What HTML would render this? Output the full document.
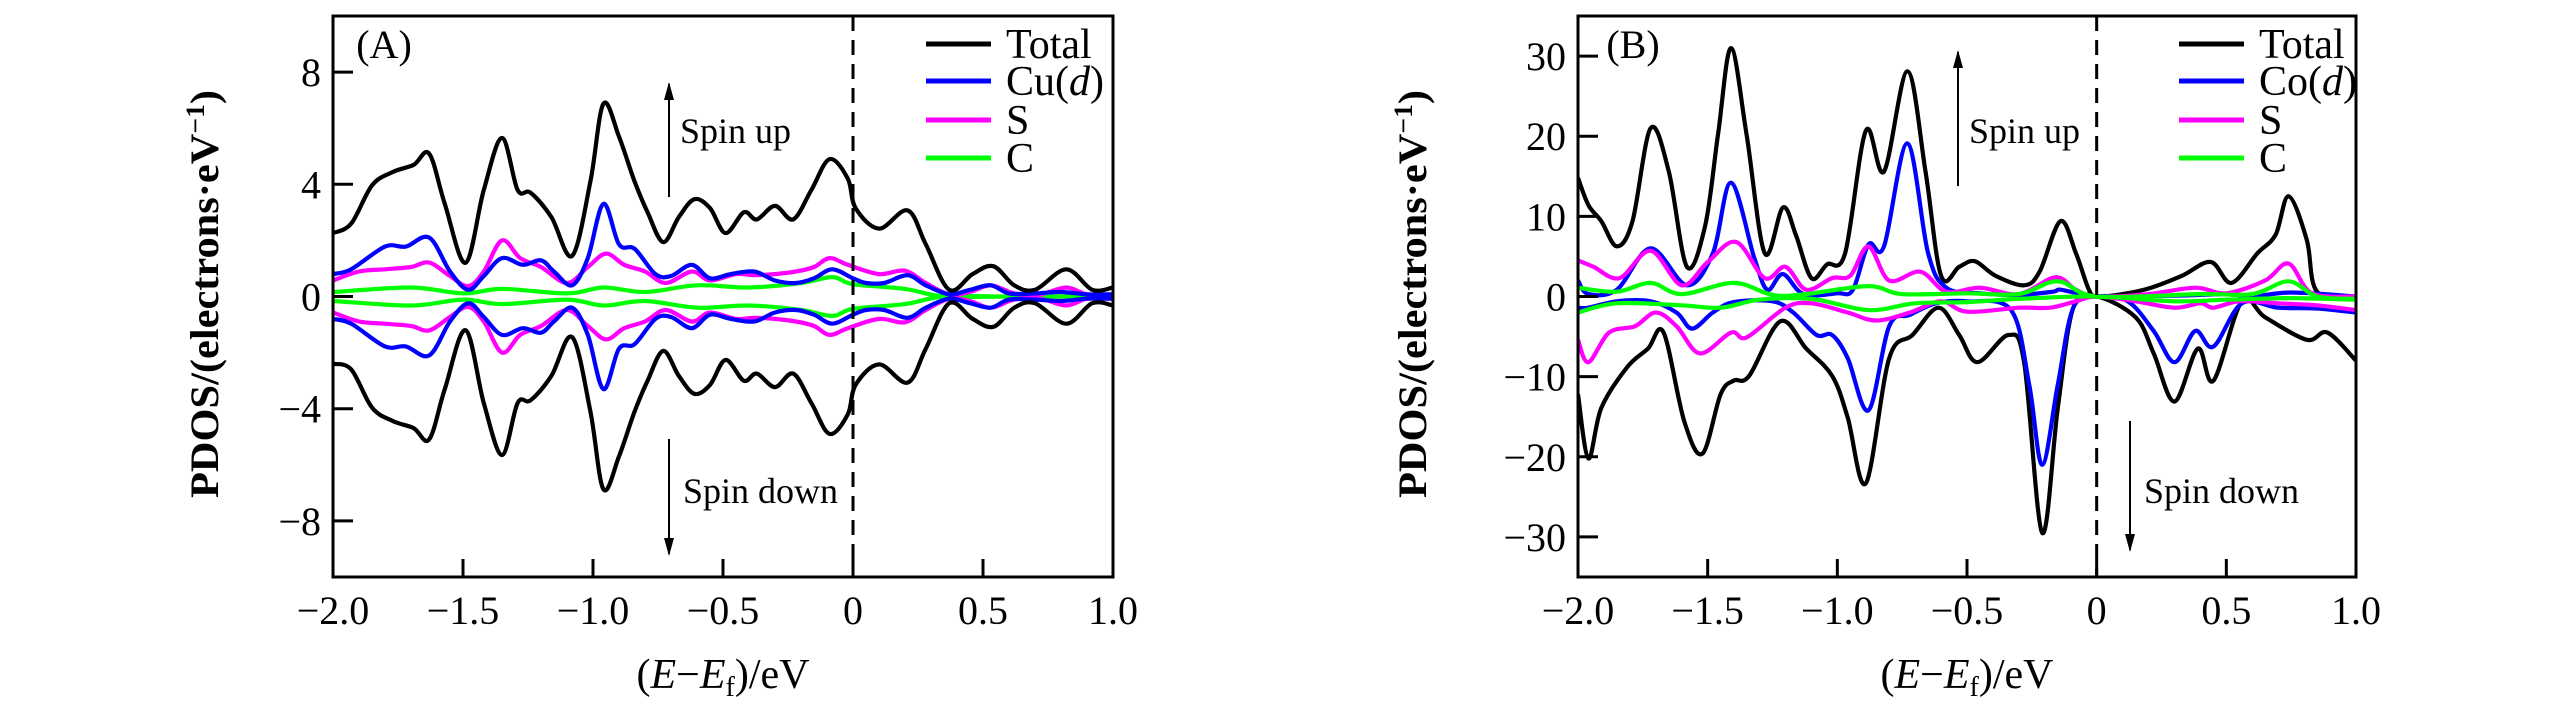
<!DOCTYPE html>
<html><head><meta charset="utf-8"><style>
html,body{margin:0;padding:0;background:#fff;}
svg{display:block;}
svg text{font-family:"Liberation Serif","DejaVu Serif",serif;}
</style></head><body>
<svg id="fig" width="2567" height="709" viewBox="0 0 2567 709" xmlns="http://www.w3.org/2000/svg" font-family="Liberation Serif, serif"></svg>
<script>
// ---- Panel A data ----
const aTotalX = [-2,-1.93,-1.85,-1.77,-1.69,-1.63,-1.57,-1.49,-1.42,-1.35,-1.29,-1.24,-1.16,-1.08,-1.01,-0.96,-0.90,-0.84,-0.79,-0.73,-0.67,-0.61,-0.55,-0.49,-0.42,-0.37,-0.30,-0.23,-0.16,-0.09,-0.02,0.01,0.10,0.21,0.28,0.37,0.46,0.54,0.62,0.70,0.82,0.92,1.0];
const aTotalUp = [2.26,2.6,3.96,4.44,4.69,5.09,3.3,1.2,3.8,5.65,3.8,3.7,2.83,1.45,4.1,6.87,5.7,4.1,3.0,1.94,2.83,3.47,3.15,2.26,3.0,2.75,3.23,2.75,3.8,4.9,4.2,3.15,2.42,3.07,1.86,0.24,0.8,1.08,0.4,0.24,0.97,0.24,0.32];
const aTotalDown = [-2.4,-2.6,-3.96,-4.44,-4.69,-5.09,-3.3,-1.2,-3.8,-5.65,-3.8,-3.7,-2.83,-1.45,-4.1,-6.87,-5.7,-4.1,-3.0,-1.94,-2.83,-3.47,-3.15,-2.26,-3.0,-2.75,-3.23,-2.75,-3.8,-4.9,-4.2,-3.15,-2.42,-3.07,-1.86,-0.24,-0.8,-1.08,-0.4,-0.24,-0.97,-0.24,-0.32];
const aCuX = [-2,-1.93,-1.8,-1.72,-1.63,-1.55,-1.48,-1.42,-1.35,-1.27,-1.2,-1.15,-1.08,-1.02,-0.96,-0.90,-0.84,-0.76,-0.70,-0.62,-0.55,-0.47,-0.38,-0.30,-0.22,-0.15,-0.08,0.0,0.05,0.12,0.21,0.28,0.37,0.45,0.53,0.6,0.7,0.8,0.9,1.0];
const aCuUp = [0.8,0.97,1.78,1.78,2.1,0.89,0.24,0.73,1.37,1.13,1.29,0.89,0.4,1.37,3.3,1.86,1.7,0.8,0.73,1.13,0.65,0.8,0.89,0.57,0.48,0.65,0.97,0.65,0.48,0.48,0.76,0.4,0.08,0.24,0.4,0.11,0.11,0.16,0.08,0.08];
const aCuDown = [-0.8,-0.97,-1.78,-1.78,-2.1,-0.89,-0.24,-0.73,-1.37,-1.13,-1.29,-0.89,-0.4,-1.37,-3.3,-1.86,-1.7,-0.8,-0.73,-1.13,-0.65,-0.8,-0.89,-0.57,-0.48,-0.65,-0.97,-0.65,-0.48,-0.48,-0.76,-0.4,-0.08,-0.24,-0.4,-0.11,-0.11,-0.16,-0.08,-0.08];
const aSX = [-2,-1.9,-1.8,-1.7,-1.63,-1.55,-1.48,-1.42,-1.35,-1.28,-1.2,-1.1,-1.02,-0.95,-0.88,-0.80,-0.72,-0.62,-0.55,-0.45,-0.38,-0.30,-0.22,-0.15,-0.09,-0.02,0.1,0.2,0.28,0.37,0.45,0.53,0.62,0.72,0.82,0.9,1.0];
const aSUp = [0.57,0.89,0.97,1.05,1.21,0.73,0.37,0.89,2.0,1.37,1.05,0.48,1.05,1.53,1.13,0.89,0.48,0.89,0.57,0.8,0.76,0.8,0.89,1.05,1.37,1.13,0.8,0.92,0.48,0.08,0.16,0.4,0.11,0.08,0.32,0.08,0.08];
const aSDown = [-0.57,-0.89,-0.97,-1.05,-1.21,-0.73,-0.37,-0.89,-2.0,-1.37,-1.05,-0.48,-1.05,-1.53,-1.13,-0.89,-0.48,-0.89,-0.57,-0.8,-0.76,-0.8,-0.89,-1.05,-1.37,-1.13,-0.8,-0.92,-0.48,-0.08,-0.16,-0.4,-0.11,-0.08,-0.32,-0.08,-0.08];
const aCX = [-2,-1.7,-1.5,-1.35,-1.1,-0.96,-0.8,-0.6,-0.4,-0.2,-0.08,0.0,0.2,0.35,0.6,1.0];
const aCUp = [0.16,0.32,0.11,0.27,0.11,0.32,0.16,0.4,0.32,0.48,0.69,0.44,0.27,0.0,0.0,0.0];
const aCDown = [-0.16,-0.32,-0.11,-0.27,-0.11,-0.32,-0.16,-0.4,-0.32,-0.48,-0.69,-0.44,-0.27,0.0,0.0,0.0];

// ---- Panel B data ----
const bTotUpX = [-2,-1.96,-1.91,-1.85,-1.79,-1.72,-1.65,-1.58,-1.51,-1.46,-1.41,-1.35,-1.28,-1.21,-1.16,-1.10,-1.04,-0.97,-0.89,-0.82,-0.73,-0.66,-0.60,-0.53,-0.47,-0.39,-0.28,-0.22,-0.14,-0.08,-0.03,0,0.10,0.21,0.33,0.44,0.52,0.62,0.69,0.74,0.81,0.85,1.0];
const bTotUp = [14.8,11.4,9.4,6.25,9.4,21,15.6,3.7,8.8,20.2,31,20.2,5.4,11.1,7.7,2.3,4.0,5.4,20.7,15.6,28.1,15.6,2.6,3.7,4.4,2.6,1.4,3.1,9.4,5.4,0.85,0,0.3,1.1,2.6,4.3,1.7,5.4,7.7,12.5,7.1,0.6,-0.3];
const bTotDnX = [-2,-1.96,-1.91,-1.81,-1.73,-1.67,-1.59,-1.52,-1.45,-1.40,-1.34,-1.22,-1.12,-1.02,-0.96,-0.89,-0.80,-0.71,-0.61,-0.53,-0.46,-0.34,-0.28,-0.21,-0.15,-0.09,0,0.15,0.22,0.30,0.39,0.45,0.56,0.65,0.81,0.89,1.0];
const bTotDown = [-12.2,-20.2,-13.9,-8.8,-6.5,-4.5,-15.6,-19.6,-12.2,-10.5,-9.9,-3.1,-6.5,-9.9,-15.1,-23.3,-7.7,-4.8,-1.4,-4.8,-8.2,-4.8,-8.2,-29.5,-13.9,-1.4,0,-2.6,-7.1,-13.1,-6.5,-10.5,-0.6,-2.6,-5.4,-4.5,-8.0];
const bCoUpX = [-2,-1.96,-1.85,-1.72,-1.58,-1.48,-1.41,-1.32,-1.27,-1.21,-1.13,-1.0,-0.94,-0.88,-0.82,-0.73,-0.65,-0.58,-0.45,-0.3,-0.17,-0.14,-0.05,0,0.3,0.5,0.6,0.75,1.0];
const bCoUp = [2.0,0.3,0.85,6.0,1.4,5.4,14.2,4.8,0.85,2.8,0.3,0.4,0.85,6.5,6.25,19.1,5.4,1.1,0.4,0.2,0.6,0.85,0.2,0,0.1,0.3,0,0.5,0];
const bCoDnX = [-2,-1.96,-1.85,-1.72,-1.62,-1.56,-1.48,-1.40,-1.25,-1.17,-1.08,-1.02,-0.96,-0.88,-0.80,-0.72,-0.62,-0.5,-0.33,-0.26,-0.21,-0.15,-0.09,0,0.12,0.22,0.30,0.38,0.45,0.56,0.7,0.85,1.0];
const bCoDown = [-1.4,-1.4,-0.6,-0.6,-2,-4.0,-2,-0.7,-0.6,-2,-4.8,-4.8,-7.7,-14.2,-3.7,-2.3,-0.85,-0.6,-1.7,-11,-21,-11,-1.4,0,-0.6,-4.3,-8.2,-4.3,-6.25,-0.85,-1.4,-1.5,-2.0];
const bSUpX = [-2,-1.94,-1.84,-1.72,-1.60,-1.50,-1.39,-1.28,-1.2,-1.12,-1.02,-0.95,-0.88,-0.80,-0.68,-0.58,-0.45,-0.30,-0.16,-0.08,0,0.2,0.38,0.5,0.65,0.74,0.83,1.0];
const bSUp = [4.5,3.7,2.3,5.7,1.4,4.3,6.8,2.3,3.7,0.85,2.3,2.6,6.25,2.0,3.1,0.6,1.1,0.3,2.4,0.85,0,0.3,1.1,0.4,2.0,4.1,0.4,0];
const bSDnX = [-2,-1.96,-1.88,-1.78,-1.70,-1.62,-1.53,-1.41,-1.35,-1.2,-1.1,-0.96,-0.85,-0.72,-0.6,-0.5,-0.3,-0.18,-0.08,0,0.15,0.3,0.4,0.45,0.55,0.7,0.85,1.0];
const bSDown = [-5.4,-8.2,-4.5,-3.7,-2,-3.7,-7.1,-4.5,-5.1,-1.4,-0.85,-2,-3,-2,-0.6,-1.9,-1.4,-1.4,-0.6,0,-0.6,-1.4,-0.85,-1.4,-0.6,-0.85,-1.1,-1.7];
const bCUpX = [-2,-1.85,-1.72,-1.6,-1.4,-1.25,-1.12,-0.88,-0.75,-0.5,-0.3,-0.15,0,0.4,0.6,0.74,0.85,1.0];
const bCUp = [1.1,0.6,1.7,0.3,1.7,0.2,0.3,1.3,0.3,0.4,0.3,1.9,0,0.3,0.3,1.9,0,-0.3];
const bCDnX = [-2,-1.85,-1.6,-1.45,-1.3,-1.1,-0.88,-0.7,-0.5,-0.3,0,0.3,0.5,0.75,1.0];
const bCDown = [-2.0,-0.85,-1.1,-1.4,-0.4,-0.3,-1.7,-0.85,-0.7,-0.3,0,-0.6,-0.4,-0.2,-0.4];

const xTicks = [-2.0,-1.5,-1.0,-0.5,0,0.5,1.0];
const xTickLabels = ["\u22122.0","\u22121.5","\u22121.0","\u22120.5","0","0.5","1.0"];
const aYTicks = [8,4,0,-4,-8];
const aYTickLabels = ["8","4","0","\u22124","\u22128"];
const bYTicks = [30,20,10,0,-10,-20,-30];
const bYTickLabels = ["30","20","10","0","\u221210","\u221220","\u221230"];

const NS = "http://www.w3.org/2000/svg";
const FONT = '"Liberation Serif", "DejaVu Serif", serif';
const svg = document.getElementById('fig');
function mk(tag, attrs, parent){
  const e = document.createElementNS(NS, tag);
  for (const k in attrs) e.setAttribute(k, attrs[k]);
  if (tag === 'text') e.style.fontFamily = FONT;
  (parent||svg).appendChild(e);
  return e;
}
function smoothPath(pts){
  let d = "M"+pts[0][0].toFixed(1)+","+pts[0][1].toFixed(1);
  for (let i=0;i<pts.length-1;i++){
    const p0=pts[Math.max(i-1,0)], p1=pts[i], p2=pts[i+1], p3=pts[Math.min(i+2,pts.length-1)];
    const c1x=p1[0]+(p2[0]-p0[0])/6, c1y=p1[1]+(p2[1]-p0[1])/6;
    const c2x=p2[0]-(p3[0]-p1[0])/6, c2y=p2[1]-(p3[1]-p1[1])/6;
    d+=" C"+c1x.toFixed(1)+","+c1y.toFixed(1)+" "+c2x.toFixed(1)+","+c2y.toFixed(1)+" "+p2[0].toFixed(1)+","+p2[1].toFixed(1);
  }
  return d;
}

function panel(cfg){
  const g = mk('g', {});
  
  
  const L=cfg.left, R=cfg.right, T=16, B=577;
  const sx = v => L + (v - (-2)) / 3 * (R - L);
  const sy = v => T + (cfg.ymax - v) / (cfg.ymax - cfg.ymin) * (B - T);
  const clip = mk('clipPath', {id: cfg.name+'-clip'}, g);
  mk('rect', {x:L, y:T, width:R-L, height:B-T}, clip);
  const plot = mk('g', {'clip-path':'url(#'+cfg.name+'-clip)'}, g);
  cfg.series.forEach(s => {
    const pts = s.x.map((xv,i)=>[sx(xv), sy(s.y[i])]);
    const p = mk('path', {d:smoothPath(pts), fill:'none', stroke:s.color, 'stroke-width':4.2, 'stroke-linejoin':'round'}, plot);
    
    
  });
  const fl = mk('line', {x1:sx(0), x2:sx(0), y1:T, y2:B, stroke:'#000', 'stroke-width':3, 'stroke-dasharray':'15 9'}, g);
  
  
  const fr = mk('rect', {x:L, y:T, width:R-L, height:B-T, fill:'none', stroke:'#000', 'stroke-width':3}, g);
  
  
  xTicks.forEach((t,i)=>{
    const x = sx(t);
    mk('line', {x1:x, x2:x, y1:B, y2:B-18, stroke:'#000', 'stroke-width':3}, g);
    const tx = mk('text', {x:x, y:624, 'font-size':40, 'text-anchor':'middle'}, g);
    tx.textContent = xTickLabels[i];
    
    
  });
  cfg.yTicks.forEach((t,i)=>{
    const y = sy(t);
    mk('line', {x1:L, x2:L+20, y1:y, y2:y, stroke:'#000', 'stroke-width':3}, g);
    const tx = mk('text', {x:L-12, y:y+14, 'font-size':40, 'text-anchor':'end'}, g);
    tx.textContent = cfg.yTickLabels[i];
    
    
  });
  const xt = mk('text', {x:(L+R)/2, y:688, 'font-size':42, 'text-anchor':'middle'}, g);
  xt.innerHTML = '(<tspan font-style="italic">E</tspan>\u2212<tspan font-style="italic">E</tspan><tspan font-size="28" dy="8">f</tspan><tspan dy="-8">)/eV</tspan>';
  
  
  const yx = cfg.ytitleX, ym = 294;
  const yt = mk('text', {x:yx, y:ym, 'font-size':40, 'font-weight':'bold', 'text-anchor':'middle', transform:'rotate(-90 '+yx+' '+ym+')', textLength:408, lengthAdjust:'spacingAndGlyphs'}, g);
  yt.innerHTML = 'PDOS/(electrons\u00b7eV<tspan font-size="26" dy="-14">\u22121</tspan><tspan dy="14">)</tspan>';
  
  
  const pl = mk('text', {x:cfg.labelX, y:58, 'font-size':40, 'text-anchor':'middle'}, g);
  pl.textContent = cfg.label;
  
  
  const rows = [44,81,120,158];
  cfg.legend.forEach((e,i)=>{
    const lg = mk('g', {}, g);
    
    
    mk('line', {x1:cfg.legX, x2:cfg.legX+65, y1:rows[i], y2:rows[i], stroke:e.color, 'stroke-width':5}, lg);
    const t = mk('text', {x:cfg.legX+80, y:rows[i]+14, 'font-size':42}, lg);
    t.innerHTML = e.label;
  });
  function arrow(x, y1, y2, name){
    const ag = mk('g', {}, g);
    
    
    mk('line', {x1:x, x2:x, y1:y1, y2:y2, stroke:'#000', 'stroke-width':2}, ag);
    const dir = y2 > y1 ? 1 : -1;
    mk('polygon', {points: x+','+(y2+dir*2)+' '+(x-5)+','+(y2-dir*16)+' '+(x+5)+','+(y2-dir*16)}, ag);
  }
  arrow(cfg.upX, cfg.upY2, cfg.upY1, 'spin-up-arrow');
  arrow(cfg.dnX, cfg.dnY1, cfg.dnY2, 'spin-down-arrow');
  const su = mk('text', {x:cfg.upX+11, y:143, 'font-size':36}, g);
  su.textContent = 'Spin up';
  
  
  const sd = mk('text', {x:cfg.dnX+14, y:503, 'font-size':36}, g);
  sd.textContent = 'Spin down';
  
  
}

panel({name:'panel-a', left:333, right:1113, ymin:-10, ymax:10,
  yTicks:aYTicks, yTickLabels:aYTickLabels, ytitleX:218, label:'(A)', labelX:384,
  legX:926, upX:669, upY1:84, upY2:197, dnX:669, dnY1:439, dnY2:554,
  legend:[{color:'#000',label:'Total'},{color:'#0000ff',label:'Cu(<tspan font-style="italic">d</tspan>)'},{color:'#ff00ff',label:'S'},{color:'#00ff00',label:'C'}],
  series:[
    {name:'a-c-up',x:aCX,y:aCUp,color:'#00ff00'},{name:'a-c-down',x:aCX,y:aCDown,color:'#00ff00'},
    {name:'a-s-up',x:aSX,y:aSUp,color:'#ff00ff'},{name:'a-s-down',x:aSX,y:aSDown,color:'#ff00ff'},
    {name:'a-cu-up',x:aCuX,y:aCuUp,color:'#0000ff'},{name:'a-cu-down',x:aCuX,y:aCuDown,color:'#0000ff'},
    {name:'a-total-up',x:aTotalX,y:aTotalUp,color:'#000'},{name:'a-total-down',x:aTotalX,y:aTotalDown,color:'#000'}
  ]});
panel({name:'panel-b', left:1578, right:2356, ymin:-35, ymax:35,
  yTicks:bYTicks, yTickLabels:bYTickLabels, ytitleX:1426, label:'(B)', labelX:1633,
  legX:2179, upX:1958, upY1:52, upY2:186, dnX:2130, dnY1:421, dnY2:550,
  legend:[{color:'#000',label:'Total'},{color:'#0000ff',label:'Co(<tspan font-style="italic">d</tspan>)'},{color:'#ff00ff',label:'S'},{color:'#00ff00',label:'C'}],
  series:[
    {name:'b-total-up',x:bTotUpX,y:bTotUp,color:'#000'},{name:'b-total-down',x:bTotDnX,y:bTotDown,color:'#000'},
    {name:'b-co-up',x:bCoUpX,y:bCoUp,color:'#0000ff'},{name:'b-co-down',x:bCoDnX,y:bCoDown,color:'#0000ff'},
    {name:'b-s-up',x:bSUpX,y:bSUp,color:'#ff00ff'},{name:'b-s-down',x:bSDnX,y:bSDown,color:'#ff00ff'},
    {name:'b-c-up',x:bCUpX,y:bCUp,color:'#00ff00'},{name:'b-c-down',x:bCDnX,y:bCDown,color:'#00ff00'}
  ]});
</script>
</body></html>
